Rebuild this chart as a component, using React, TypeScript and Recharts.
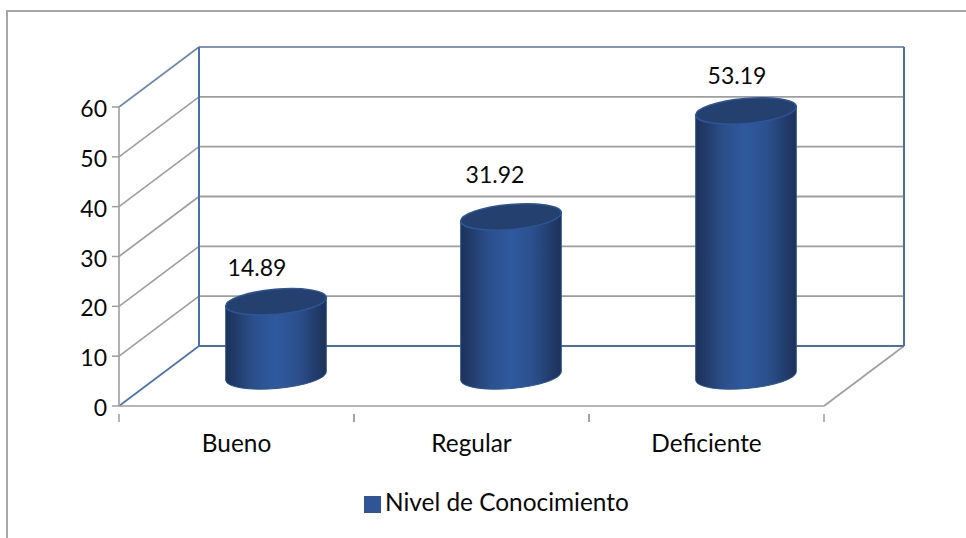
import React from "react";
import { BarChart, Bar, XAxis, YAxis, CartesianGrid, Legend, LabelList } from "recharts";

// Survey result: share of respondents per knowledge level
const categories = ["Bueno", "Regular", "Deficiente"];
const values = [14.89, 31.92, 53.19];
const seriesName = "Nivel de Conocimiento";
const yTicks = [0, 10, 20, 30, 40, 50, 60];

const rows = categories.map((nivel, i) => ({ nivel, valor: values[i] }));

// Depth of the pseudo-3D box, front plane to back wall
const DEPTH_X = 80;
const DEPTH_Y = -60;
const PLOT_TOP = 107;
const PLOT_H = 299;
const BAND = 235;
const FONT = "Lato, 'Open Sans', sans-serif";
const FONT_SIZE = 23;
const TEXT_SIZE = 24.4;
const GREY = "#9e9e9e";
const BLUE = "#4a6fb0";
const INK = "#0a0a0a";
const labelNudge = [
  { dx: -20, dy: -26 },
  { dx: -17, dy: -34 },
  { dx: -10, dy: -27 },
];

function WallLine(props: any) {
  const { x1, y1, x2, index } = props;
  const isTop = Math.abs(y1 - PLOT_TOP) < 1;
  const isBottom = Math.abs(y1 - (PLOT_TOP + PLOT_H)) < 1;
  const bx = x1 + DEPTH_X;
  const by = y1 + DEPTH_Y;
  return (
    <g key={index ?? y1}>
      <line
        x1={x1}
        y1={y1}
        x2={bx}
        y2={by}
        stroke={isBottom ? BLUE : isTop ? "#6f86ad" : GREY}
        strokeWidth={1.6}
      />
      {isBottom && (
        <line x1={x2} y1={y1} x2={x2 + DEPTH_X} y2={by} stroke={GREY} strokeWidth={1.6} />
      )}
      <line
        x1={bx}
        y1={by}
        x2={x2 + DEPTH_X}
        y2={by}
        stroke={isBottom ? BLUE : isTop ? "#8496b8" : GREY}
        strokeWidth={1.8}
      />
      {isTop && (
        <>
          <line x1={bx} y1={by} x2={bx} y2={by + PLOT_H} stroke={BLUE} strokeWidth={2} />
          <line x1={x2 + DEPTH_X} y1={by} x2={x2 + DEPTH_X} y2={by + PLOT_H} stroke={BLUE} strokeWidth={2} />
        </>
      )}
    </g>
  );
}

function Cylinder(props: any) {
  const { x, y, width, height, index } = props;
  const cx = x + width / 2 + DEPTH_X / 2 - 1;
  const top = y + DEPTH_Y / 2;
  const bottom = y + height + DEPTH_Y / 2;
  const rx = width / 2 + 0.5;
  const ry = 12.5;
  const tilt = -5;
  const ex = rx * Math.cos((tilt * Math.PI) / 180);
  const ey = rx * Math.sin((tilt * Math.PI) / 180);
  const gid = `cyl-${index}`;
  const body = [
    `M${cx - ex} ${top - ey}`,
    `L${cx - ex} ${bottom - ey}`,
    `A${rx} ${ry} ${tilt} 0 0 ${cx + ex} ${bottom + ey}`,
    `L${cx + ex} ${top + ey}`,
    "Z",
  ].join(" ");
  return (
    <g>
      <defs>
        <linearGradient id={gid} x1="0" y1="0" x2="1" y2="0">
          <stop offset="0" stopColor="#1c3158" />
          <stop offset="0.28" stopColor="#2b4f8c" />
          <stop offset="0.5" stopColor="#2f5a9f" />
          <stop offset="0.72" stopColor="#2b4f8c" />
          <stop offset="1" stopColor="#1c3158" />
        </linearGradient>
      </defs>
      <path d={body} fill={`url(#${gid})`} stroke="#2f5597" strokeWidth={1} />
      <ellipse
        cx={cx}
        cy={top}
        rx={rx}
        ry={ry}
        transform={`rotate(${tilt} ${cx} ${top})`}
        fill="#24406f"
        stroke="#2f5597"
        strokeWidth={1.5}
      />
    </g>
  );
}

function ValueLabel(props: any) {
  const { x, y, width, value, index } = props;
  const n = labelNudge[index];
  return (
    <text
      x={x + width / 2 + DEPTH_X / 2 + n.dx}
      y={y + DEPTH_Y / 2 + n.dy}
      textAnchor="middle"
      fontFamily={FONT}
      fontSize={FONT_SIZE}
      fill={INK}
    >
      {value}
    </text>
  );
}

function CategoryTick(props: any) {
  const { x, y, payload } = props;
  return (
    <g>
      <line x1={x - BAND / 2} y1={y} x2={x - BAND / 2} y2={y + 8} stroke={GREY} strokeWidth={1.5} />
      <line x1={x + BAND / 2} y1={y} x2={x + BAND / 2} y2={y + 8} stroke={GREY} strokeWidth={1.5} />
      <text x={x} y={y + 45 - 7} textAnchor="middle" fontFamily={FONT} fontSize={TEXT_SIZE} fill={INK}>
        {payload.value}
      </text>
    </g>
  );
}

export default function App() {
  return (
    <div style={{ position: "absolute", left: 0, top: 0, width: 966, height: 538, background: "#fff" }}>
      <div
        style={{
          position: "absolute",
          left: 6,
          top: 10,
          width: 960,
          height: 528,
          borderLeft: "2px solid #a6a6a6",
          borderTop: "2px solid #a6a6a6",
          boxSizing: "border-box",
        }}
      />
      <div style={{ position: "absolute", left: 0, top: 0 }}>
        <BarChart
          width={966}
          height={538}
          data={rows}
          margin={{ top: PLOT_TOP, right: 142, bottom: 63, left: 0 }}
          barSize={100}
        >
          <CartesianGrid
            vertical={false}
            horizontal={(p: any) => <WallLine {...p} />}
          />
          <XAxis
            dataKey="nivel"
            height={40}
            axisLine={{ stroke: GREY, strokeWidth: 1.6 }}
            tickLine={false}
            tick={<CategoryTick />}
            interval={0}
          />
          <YAxis
            width={119}
            domain={[0, 60]}
            ticks={yTicks}
            axisLine={{ stroke: GREY, strokeWidth: 1.6 }}
            tickLine={{ stroke: GREY, strokeWidth: 1.5 }}
            tickSize={7}
            tickMargin={5}
            tick={{ fontFamily: FONT, fontSize: FONT_SIZE, fill: INK, dy: 2 }}
          />
          <Bar dataKey="valor" name={seriesName} fill="#2f5597" isAnimationActive={false} shape={<Cylinder />}>
            <LabelList dataKey="valor" content={<ValueLabel />} />
          </Bar>
          <Legend
            iconType="square"
            iconSize={17}
            wrapperStyle={{ position: "absolute", left: 364, top: 487, width: "auto", fontFamily: FONT, fontSize: TEXT_SIZE }}
            formatter={(v: string) => <span style={{ color: INK }}>{v}</span>}
          />
        </BarChart>
      </div>
    </div>
  );
}
